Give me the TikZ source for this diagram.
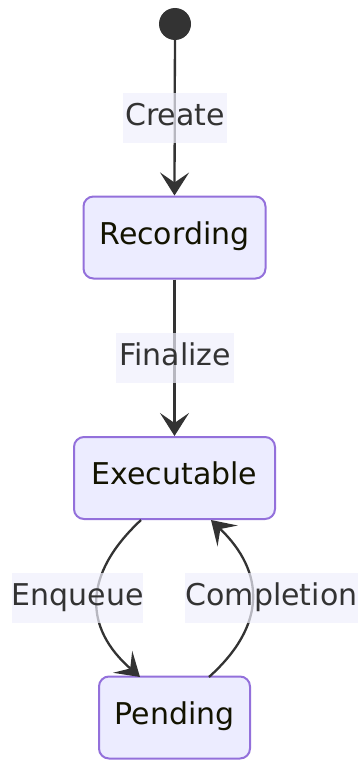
\documentclass[tikz,border=0pt]{standalone}
\usepackage{fontspec}
\setmainfont{DejaVu Sans}
\usetikzlibrary{arrows.meta}
\definecolor{nodefill}{HTML}{ECECFF}
\definecolor{nodedraw}{HTML}{9370DB}
\definecolor{edgecol}{HTML}{333333}
\definecolor{lblfill}{HTML}{F0F0FC}
\definecolor{nodetext}{HTML}{131300}
\begin{document}
\begin{tikzpicture}[x=1pt,y=-1pt,
  statebox/.style={draw=nodedraw, fill=nodefill, line width=2pt, rounded corners=10pt,
     minimum height=82pt, inner sep=0pt, text=nodetext, font=\fontsize{30}{32}\selectfont,
     text height=22pt, text depth=9pt},
  edgelbl/.style={fill=lblfill, fill opacity=0.7, text opacity=1, text=edgecol, inner sep=0pt,
     minimum height=50pt, font=\fontsize{30}{32}\selectfont, text height=24pt, text depth=10pt},
  trans/.style={draw=edgecol, line width=2.3pt, -{Stealth[length=23pt,width=29pt,inset=10pt]}}]
\useasboundingbox (0,0) rectangle (361,760);
\node[circle, fill=edgecol, minimum size=32pt, inner sep=0pt] (start) at (175,24) {};
\node[statebox, minimum width=182pt] (rec) at (174.5,237.5) {Recording};
\node[statebox, minimum width=201pt] (exe) at (174.5,478) {Executable};
\node[statebox, minimum width=151pt] (pen) at (174.5,717.5) {Pending};
\draw[trans] (start) -- (rec.north);
\draw[trans] (rec.south) -- (exe.north);
\coordinate (eqs) at (141,520);
\coordinate (eqe) at (140,677);
\coordinate (cps) at (209,677);
\coordinate (cpe) at (211,520);
\draw[trans] (eqs) .. controls (82,575) and (84,628) .. (eqe);
\draw[trans] (cps) .. controls (267,625) and (265,572) .. (cpe);
\node[edgelbl, minimum width=104pt] (lcreate) at (175,118) {Create};
\node[edgelbl, minimum width=118pt] (lfinal) at (175,358) {Finalize};
\node[edgelbl, minimum width=131pt] (lenq) at (77.5,598) {Enqueue};
\node[edgelbl, minimum width=173pt] (lcomp) at (271.5,598) {Completion};
\end{tikzpicture}
\end{document}
